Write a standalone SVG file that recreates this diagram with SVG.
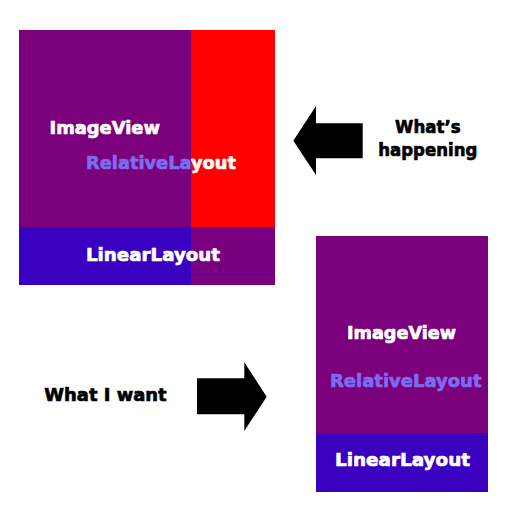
<svg xmlns="http://www.w3.org/2000/svg" width="512" height="512" viewBox="0 0 512 512">
<style>
.t{font-family:"DejaVu Sans","Liberation Sans",sans-serif;font-weight:bold;font-size:18.5px;stroke-width:0.7px;stroke-linejoin:round}
.w{fill:#ffffff;stroke:#ffffff}
.k{fill:#000000;stroke:#000000}
.lav{fill:#7c6cf0;stroke:#7c6cf0}
.pur{fill:#7b007b}
.blu{fill:#3a00c0}
.ar{fill:#000000}
</style>
<rect width="512" height="512" fill="#ffffff"/>
<g id="whats-happening-layout">
<rect class="pur" x="19" y="30" width="172" height="197"/>
<rect x="191" y="30" width="84" height="197" fill="#ff0000"/>
<rect class="blu" x="19" y="227" width="172" height="58"/>
<rect x="191" y="227" width="84" height="58" fill="#780080"/>
<text class="t w" x="49.5" y="134" textLength="110.5" lengthAdjust="spacingAndGlyphs">ImageView</text>
<text class="t" x="86" y="169" textLength="150" lengthAdjust="spacingAndGlyphs"><tspan class="lav">RelativeLa</tspan><tspan class="w">yout</tspan></text>
<text class="t w" x="86" y="260.5" textLength="134" lengthAdjust="spacingAndGlyphs">LinearLayout</text>
</g>
<g id="what-i-want-layout">
<rect class="pur" x="316" y="236" width="172" height="197"/>
<rect class="blu" x="316" y="433" width="172" height="59"/>
<text class="t w" x="347" y="339" textLength="109" lengthAdjust="spacingAndGlyphs">ImageView</text>
<text class="t lav" x="330" y="387.3" textLength="151.5" lengthAdjust="spacingAndGlyphs">RelativeLayout</text>
<text class="t w" x="335" y="466.3" textLength="135" lengthAdjust="spacingAndGlyphs">LinearLayout</text>
</g>
<g id="labels">
<text class="t k" x="395" y="132.7" textLength="65.7" lengthAdjust="spacingAndGlyphs">What’s</text>
<text class="t k" x="378.3" y="156" textLength="99" lengthAdjust="spacingAndGlyphs">happening</text>
<text class="t k" x="44.3" y="400.7" textLength="122.4" lengthAdjust="spacingAndGlyphs">What I want</text>
</g>
<g id="connectors">
<polygon class="ar" points="293.3,140.7 316,106 316,123.3 362.7,123.3 362.7,158.3 316,158.3 316,175"/>
<polygon class="ar" points="266.7,396.7 244.3,362.3 244.3,378.3 197,378.3 197,414.3 244.3,414.3 244.3,431"/>
</g>
</svg>
